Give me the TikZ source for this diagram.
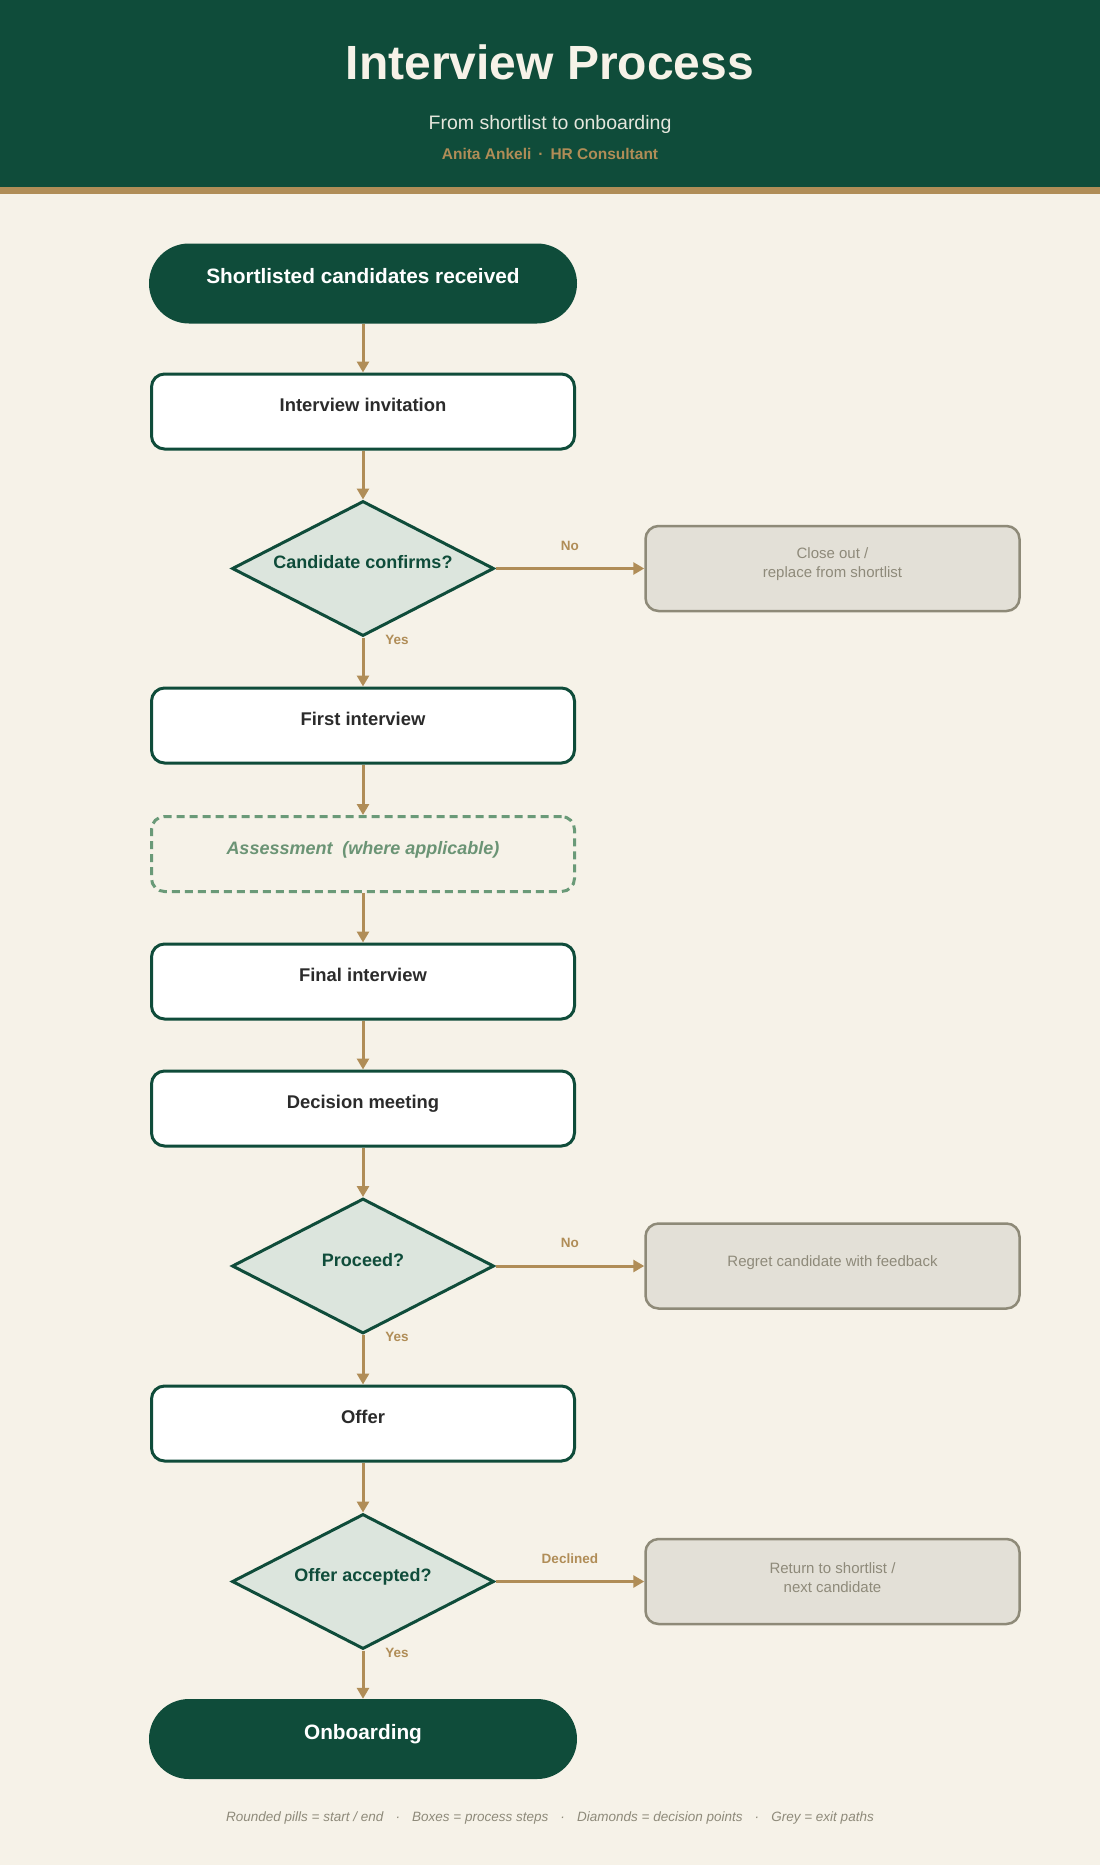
\documentclass[tikz,border=0pt]{standalone}
\usepackage{fontspec}
\setmainfont{Liberation Sans}
\usetikzlibrary{shapes.geometric,arrows.meta}
\definecolor{dkgreen}{HTML}{0F4C3A}
\definecolor{cream}{HTML}{F6F2E8}
\definecolor{gold}{HTML}{B08D57}
\definecolor{subtxt}{HTML}{E4E6DC}
\definecolor{dfill}{HTML}{DCE5DD}
\definecolor{gfill}{HTML}{E3E0D7}
\definecolor{gstroke}{HTML}{8E8A78}
\definecolor{gtext}{HTML}{8E8A7A}
\definecolor{boxtext}{HTML}{2B2B2B}
\definecolor{dashgreen}{HTML}{6A9A78}
\definecolor{dashtext}{HTML}{6B9475}
\begin{document}
\begin{tikzpicture}[x=1pt,y=-1pt,
  pill/.style={fill=dkgreen, rounded corners=40pt, minimum width=428pt, minimum height=80pt, inner sep=0pt,
    text=white, font=\bfseries\fontsize{20.8}{24}\selectfont, text height=7pt, text depth=7pt},
  procbox/.style={draw=dkgreen, line width=3pt, fill=white, rounded corners=13pt, minimum width=423pt, minimum height=75pt, inner sep=0pt,
    text=boxtext, font=\bfseries\fontsize{18.4}{22}\selectfont, text height=6.5pt, text depth=6.5pt},
  dashbox/.style={draw=dashgreen, line width=3pt, dash pattern=on 8pt off 5pt, rounded corners=13pt, minimum width=423pt, minimum height=75pt, inner sep=0pt,
    text=dashtext, font=\bfseries\itshape\fontsize{18}{22}\selectfont, text height=6.5pt, text depth=6.5pt},
  decision/.style={diamond, draw=dkgreen, line width=3pt, fill=dfill, minimum width=262pt, minimum height=135pt, inner sep=0pt,
    text=dkgreen, font=\bfseries\fontsize{18}{22}\selectfont, text height=6.5pt, text depth=6.5pt},
  greybox/.style={draw=gstroke, line width=2.5pt, fill=gfill, rounded corners=13pt, minimum width=374pt, minimum height=85pt, inner sep=0pt},
  greytext/.style={text=gtext, font=\fontsize{15}{19}\selectfont, align=center, inner sep=0pt},
  flow/.style={draw=gold, line width=3pt, -{Triangle[length=11pt,width=12pt]}},
  lbl/.style={text=gold, font=\bfseries\fontsize{13.5}{16}\selectfont, inner sep=0pt},
  ]
\useasboundingbox (0,0) rectangle (1100,1865);
\fill[cream] (0,0) rectangle (1100,1865);
% header
\fill[dkgreen] (0,0) rectangle (1100,187);
\fill[gold] (0,187) rectangle (1100,194);
\node[anchor=base, text=cream, font=\bfseries\fontsize{48}{56}\selectfont, inner sep=0pt] (title) at (550,80) {Interview Process};
\node[anchor=base, text=subtxt, font=\fontsize{19.5}{23}\selectfont, inner sep=0pt] (subtitle) at (550,129.5) {From shortlist to onboarding};
\node[anchor=base, text=gold, font=\bfseries\fontsize{15.5}{18}\selectfont, inner sep=0pt] (author) at (550,160) {Anita Ankeli\hspace{0.45em}·\hspace{0.45em}HR Consultant};

% main column
\node[pill] (start) at (363,283.5) {Shortlisted candidates received};
\node[procbox] (inv) at (363,411.5) {Interview invitation};
\node[decision] (d1) at (363,568.5) {\makebox[0pt]{Candidate confirms?}};
\node[greybox] (g1) at (832.5,568.5) {};
\node[greytext] (g1t) at ([yshift=4pt]g1.center) {Close out /\\replace from shortlist};
\node[procbox] (first) at (363,725.5) {First interview};
\node[dashbox] (assess) at (363,854) {Assessment\hspace{0.55em}(where applicable)};
\node[procbox] (final) at (363,981.5) {Final interview};
\node[procbox] (decm) at (363,1108.5) {Decision meeting};
\node[decision] (d2) at (363,1266) {\makebox[0pt]{Proceed?}};
\node[greybox] (g2) at (832.5,1266) {};
\node[greytext, text height=6pt, text depth=6pt] (g2t) at (g2.center) {Regret candidate with feedback};
\node[procbox] (offer) at (363,1423.5) {Offer};
\node[decision] (d3) at (363,1581.5) {\makebox[0pt]{Offer accepted?}};
\node[greybox] (g3) at (832.5,1581.5) {};
\node[greytext] (g3t) at ([yshift=4pt]g3.center) {Return to shortlist /\\next candidate};
\node[pill] (onb) at (363,1739) {Onboarding};

% connectors
\draw[flow] (start) -- (inv);
\draw[flow] (inv) -- (d1);
\draw[flow] (d1.east) -- (g1.west) node[lbl, midway, yshift=23pt] (no1) {No};
\draw[flow] (d1.south) -- (first.north);
\node[lbl] (yes1) at ([xshift=34pt,yshift=-2pt]d1.south) {Yes};
\draw[flow] (first) -- (assess);
\draw[flow] (assess) -- (final);
\draw[flow] (final) -- (decm);
\draw[flow] (decm) -- (d2);
\draw[flow] (d2.east) -- (g2.west) node[lbl, midway, yshift=23pt] (no2) {No};
\draw[flow] (d2.south) -- (offer.north);
\node[lbl] (yes2) at ([xshift=34pt,yshift=-2pt]d2.south) {Yes};
\draw[flow] (offer) -- (d3);
\draw[flow] (d3.east) -- (g3.west) node[lbl, midway, yshift=23pt] (dec3) {Declined};
\draw[flow] (d3.south) -- (onb.north);
\node[lbl] (yes3) at ([xshift=34pt,yshift=-2pt]d3.south) {Yes};

% footer
\node[text=gtext, font=\itshape\fontsize{13.5}{16}\selectfont, inner sep=0pt] (legend) at (550,1818)
 {Rounded pills = start / end\hspace{0.9em}·\hspace{0.9em}Boxes = process steps\hspace{0.9em}·\hspace{0.9em}Diamonds = decision points\hspace{0.9em}·\hspace{0.9em}Grey = exit paths};
\end{tikzpicture}
\end{document}
